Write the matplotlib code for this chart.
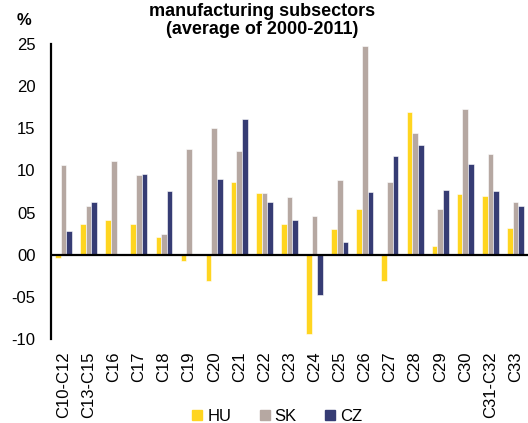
import matplotlib.pyplot as plt
import numpy as np
from matplotlib.lines import Line2D

plt.rcParams['font.family'] = ['Liberation Sans', 'DejaVu Sans']

# categories and values (percent)
sectors = ['C10-C12', 'C13-C15', 'C16', 'C17', 'C18', 'C19', 'C20', 'C21', 'C22',
           'C23', 'C24', 'C25', 'C26', 'C27', 'C28', 'C29', 'C30', 'C31-C32', 'C33']
hu = [-0.4, 3.6, 4.1, 3.6, 2.1, -0.75, -3.1, 8.6, 7.3, 3.7, -9.4, 3.1, 5.4, -3.1,
      16.9, 1.0, 7.2, 7.0, 3.2]
sk = [10.7, 5.8, 11.1, 9.4, 2.4, 12.6, 15.0, 12.3, 7.3, 6.8, 4.6, 8.9, 24.8, 8.6,
      14.4, 5.4, 17.3, 12.0, 6.2]
cz = [2.8, 6.3, 0.0, 9.6, 7.5, 0.0, 9.0, 16.1, 6.2, 4.1, -4.8, 1.5, 7.4, 11.7,
      13.0, 7.7, 10.8, 7.5, 5.8]
yticks = [-10, -5, 0, 5, 10, 15, 20, 25]
ytick_labels = ['-10', '-05', '00', '05', '10', '15', '20', '25']

c_hu, c_sk, c_cz = '#FFD520', '#B6A8A2', '#363C74'

fig = plt.figure(figsize=(5.28, 4.23), dpi=100)
ax = fig.add_axes([0.0966, 0.1986, 0.9034, 0.6974])

x = np.arange(len(sectors))
w = 0.225
for off, vals, col in [(-w, hu, c_hu), (0, sk, c_sk), (w, cz, c_cz)]:
    ax.bar(x + off, vals, w, color=col, edgecolor='white', linewidth=0.4)

ax.axhline(0, color='black', lw=1.6, zorder=3)
ax.set_xlim(-0.5, 18.5)
ax.set_ylim(-10, 25)
ax.set_yticks(yticks)
ax.set_yticklabels(ytick_labels, fontsize=12)
ax.set_xticks(x)
ax.set_xticklabels(sectors, rotation=90, fontsize=12)
ax.tick_params(axis='y', length=0, pad=11)
ax.tick_params(axis='x', length=0, pad=9)
for s in ['top', 'right', 'bottom']:
    ax.spines[s].set_visible(False)
ax.spines['left'].set_linewidth(1.6)

fig.text(0.497, 0.993, 'manufacturing subsectors\n(average of 2000-2011)',
         ha='center', va='top', fontsize=13, fontweight='bold', linespacing=1.05)
fig.text(0.046, 0.952, '%', ha='center', va='center', fontsize=12, fontweight='bold')

handles = [Line2D([], [], marker='s', ls='none', color=c, markersize=6.5)
           for c in (c_hu, c_sk, c_cz)]
fig.legend(handles, ['HU', 'SK', 'CZ'], loc='center', ncol=3,
           bbox_to_anchor=(0.522, 0.015), frameon=False, fontsize=12,
           handletextpad=0.1, columnspacing=1.5, handlelength=1.0)

fig.savefig('out.png', dpi=100)
